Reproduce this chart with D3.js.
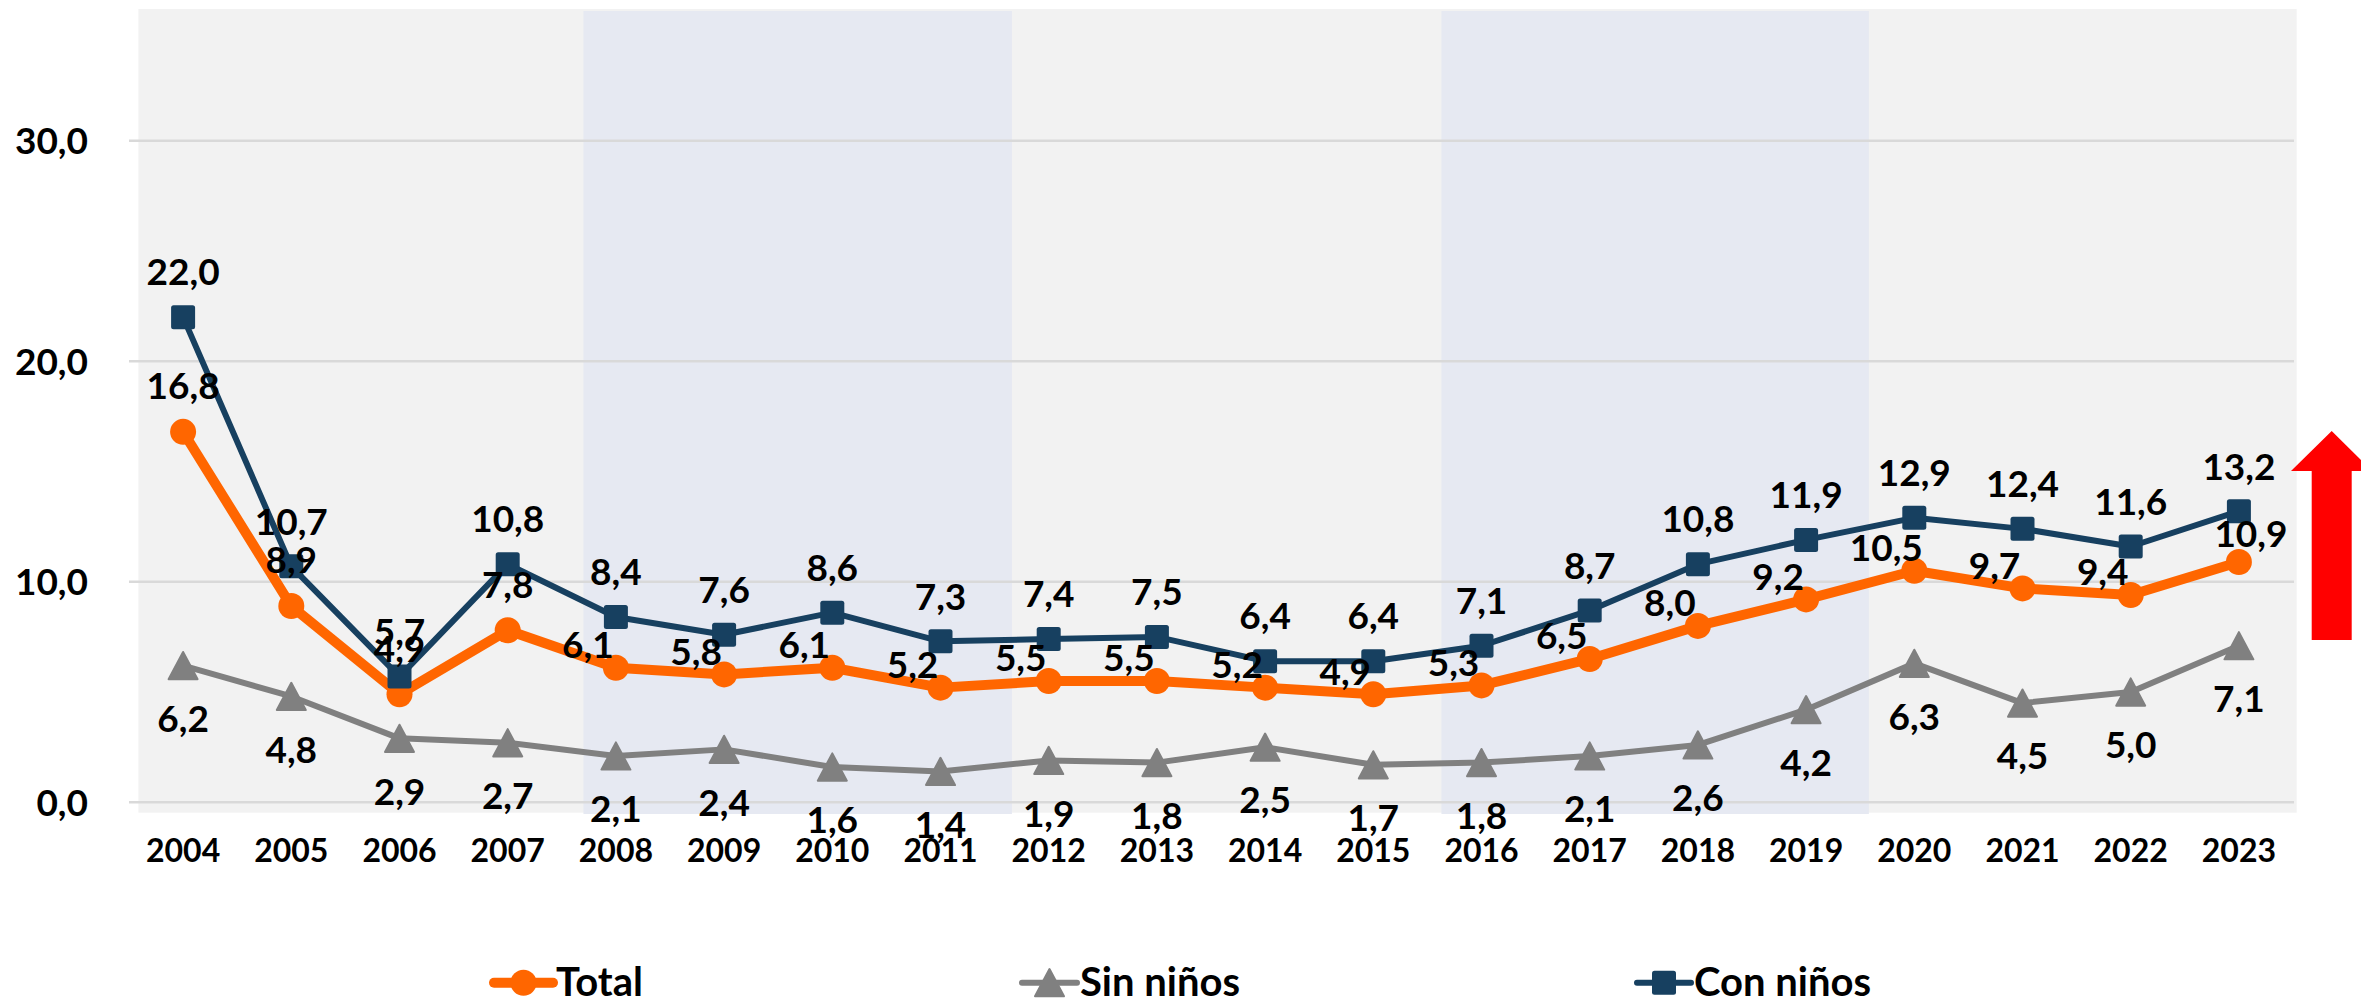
<!DOCTYPE html>
<html>
<head>
<meta charset="utf-8">
<script src="https://cdn.jsdelivr.net/npm/d3@7"></script>
<style>
  html, body { margin: 0; padding: 0; background: #ffffff; }
  svg { display: block; }
  text { font-family: "Lato", "Liberation Sans", "DejaVu Sans", sans-serif; font-weight: 700; fill: #000; }
</style>
</head>
<body>
<div id="chart"></div>
<script>
// ---------- data ----------
const years = [2004, 2005, 2006, 2007, 2008, 2009, 2010, 2011, 2012, 2013,
               2014, 2015, 2016, 2017, 2018, 2019, 2020, 2021, 2022, 2023];
const total    = [16.8, 8.9, 4.9, 7.8, 6.1, 5.8, 6.1, 5.2, 5.5, 5.5,
                  5.2, 4.9, 5.3, 6.5, 8.0, 9.2, 10.5, 9.7, 9.4, 10.9];
const sinNinos = [6.2, 4.8, 2.9, 2.7, 2.1, 2.4, 1.6, 1.4, 1.9, 1.8,
                  2.5, 1.7, 1.8, 2.1, 2.6, 4.2, 6.3, 4.5, 5.0, 7.1];
const conNinos = [22.0, 10.7, 5.7, 10.8, 8.4, 7.6, 8.6, 7.3, 7.4, 7.5,
                  6.4, 6.4, 7.1, 8.7, 10.8, 11.9, 12.9, 12.4, 11.6, 13.2];
const yTicks = [0, 10, 20, 30];
const seriesNames = ["Total", "Sin niños", "Con niños"];
const shadedPeriods = [[2007.7, 2011.66], [2015.63, 2019.58]];

// ---------- setup ----------
const W = 2361, H = 1000;
const fmt = v => d3.format(".1f")(v).replace(".", ",");
const colors = { total: "#FF6600", sin: "#808080", con: "#174060" };

const svg = d3.select("#chart").append("svg")
  .attr("width", W).attr("height", H);

const x = d3.scalePoint().domain(years).range([129, 2293]).padding(0.5);
const xl = d3.scaleLinear().domain([years[0], years[years.length - 1]])
  .range([x(years[0]), x(years[years.length - 1])]);
const y = d3.scaleLinear().domain([0, 35]).range([802.3, 30.5]);

// plot background
svg.append("rect").attr("x", 138.4).attr("y", 9)
  .attr("width", 2296.7 - 138.4).attr("height", 812.7 - 9)
  .attr("fill", "#F2F2F2");

// shaded periods
svg.selectAll("rect.band").data(shadedPeriods).enter().append("rect")
  .attr("class", "band")
  .attr("x", d => xl(d[0])).attr("width", d => xl(d[1]) - xl(d[0]))
  .attr("y", 11).attr("height", 814 - 11)
  .attr("fill", "#E6E9F2");

// gridlines
svg.selectAll("line.grid").data(yTicks).enter().append("line")
  .attr("class", "grid")
  .attr("x1", 129).attr("x2", 2294)
  .attr("y1", d => y(d)).attr("y2", d => y(d))
  .attr("stroke", "#D9D9D9").attr("stroke-width", 2.5);

// y axis labels
svg.selectAll("text.ytick").data(yTicks).enter().append("text")
  .attr("class", "ytick")
  .attr("x", 88).attr("y", d => y(d) + 13.3)
  .attr("text-anchor", "end")
  .style("font-size", "37px")
  .text(d => fmt(d));

// x axis labels
svg.selectAll("text.xtick").data(years).enter().append("text")
  .attr("class", "xtick")
  .attr("x", d => x(d)).attr("y", 862)
  .attr("text-anchor", "middle")
  .style("font-size", "32px")
  .text(d => d);

// ---------- markers ----------
const triPath = (s) => `M0,${-s * 0.47} L${s / 2},${s * 0.47} L${-s / 2},${s * 0.47} Z`;

function drawMarker(g, type, cx, cy, color) {
  if (type === "circle") {
    g.append("circle").attr("cx", cx).attr("cy", cy).attr("r", 13).attr("fill", color);
  } else if (type === "square") {
    g.append("rect").attr("x", cx - 12).attr("y", cy - 12)
      .attr("width", 24).attr("height", 24).attr("rx", 2.5).attr("fill", color);
  } else {
    g.append("path").attr("d", triPath(29)).attr("transform", `translate(${cx},${cy})`)
      .attr("fill", color).attr("stroke", color).attr("stroke-width", 2)
      .attr("stroke-linejoin", "round");
  }
}

const series = [
  { key: "total", values: total, color: colors.total, width: 10, marker: "circle" },
  { key: "sin", values: sinNinos, color: colors.sin, width: 6, marker: "triangle" },
  { key: "con", values: conNinos, color: colors.con, width: 6, marker: "square" }
];

const line = d3.line().x((d, i) => x(years[i])).y(d => y(d));

series.forEach(s => {
  const g = svg.append("g");
  g.append("path").datum(s.values).attr("d", line)
    .attr("fill", "none").attr("stroke", s.color).attr("stroke-width", s.width)
    .attr("stroke-linejoin", "round").attr("stroke-linecap", "round");
  s.values.forEach((v, i) => drawMarker(g, s.marker, x(years[i]), y(v), s.color));
});

// ---------- data labels ----------
const lab = svg.append("g").style("font-size", "37px");
const half = 13.3;
// Total
total.forEach((v, i) => {
  let dx, dy;
  const n = total.length;
  if (i < 4) { dx = 0; dy = -46; }
  else if (i === n - 1) { dx = 12; dy = -28; }
  else { dx = -28; dy = -23; }
  lab.append("text").attr("x", x(years[i]) + dx).attr("y", y(v) + dy + half)
    .attr("text-anchor", "middle").text(fmt(v));
});
// Sin niños (below)
sinNinos.forEach((v, i) => {
  lab.append("text").attr("x", x(years[i])).attr("y", y(v) + 53 + half)
    .attr("text-anchor", "middle").text(fmt(v));
});
// Con niños (above)
conNinos.forEach((v, i) => {
  lab.append("text").attr("x", x(years[i])).attr("y", y(v) - 45 + half)
    .attr("text-anchor", "middle").text(fmt(v));
});

// ---------- red arrow ----------
svg.append("path")
  .attr("d", "M2331.7,431 L2372,471 L2351.7,471 L2351.7,640 L2311.7,640 L2311.7,471 L2291,471 Z")
  .attr("fill", "#FF0000");

// ---------- legend ----------
const legendItems = [
  { name: seriesNames[0], color: colors.total, width: 10, marker: "circle", x0: 494, x1: 553 },
  { name: seriesNames[1], color: colors.sin, width: 6, marker: "triangle", x0: 1022, x1: 1077 },
  { name: seriesNames[2], color: colors.con, width: 6, marker: "square", x0: 1637, x1: 1691 }
];
const lg = svg.append("g");
const ly = 982.7;
legendItems.forEach(it => {
  lg.append("line").attr("x1", it.x0).attr("x2", it.x1).attr("y1", ly).attr("y2", ly)
    .attr("stroke", it.color).attr("stroke-width", it.width).attr("stroke-linecap", "round");
  drawMarker(lg, it.marker, (it.x0 + it.x1) / 2, ly, it.color);
  lg.append("text").attr("x", it.x1 + 3).attr("y", 996)
    .style("font-size", "40px").text(it.name);
});
</script>
</body>
</html>
